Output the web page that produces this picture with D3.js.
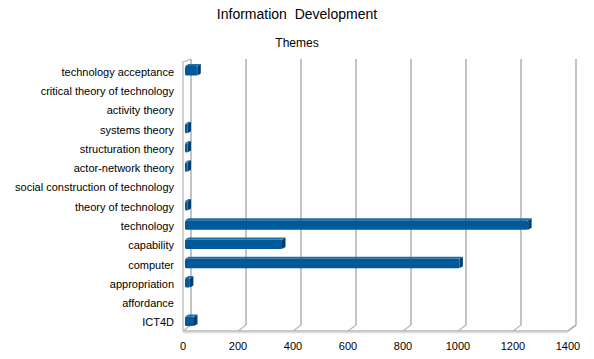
<!DOCTYPE html>
<html><head><meta charset="utf-8">
<script src="https://cdn.jsdelivr.net/npm/d3@7"></script>
<style>body{margin:0;background:#fff}svg{display:block}text{font-family:"Liberation Sans",Arial,sans-serif;fill:#000;white-space:pre}</style>
</head><body><svg id="c" width="594" height="359"></svg>
<script>
const categories = ["technology acceptance","critical theory of technology","activity theory","systems theory","structuration theory","actor-network theory","social construction of technology","theory of technology","technology","capability","computer","appropriation","affordance","ICT4D"];
const values = [52,0,0,5,5,5,0,5,1255,360,1005,25,0,40];
const ticks = [0,200,400,600,800,1000,1200,1400];

(function(){
const svg = d3.select("#c");
const dx = 8, dy = -6;
const x = d3.scaleLinear().domain([0,1400]).range([183,568]);
const y = d3.scaleBand().domain(categories).range([61,331]);

svg.append("text").attr("x",297).attr("y",19).attr("text-anchor","middle").attr("font-size",14).text("Information  Development");
svg.append("text").attr("x",297).attr("y",47).attr("text-anchor","middle").attr("font-size",12).text("Themes");

const grid = "#b5b5b5";
const g = svg.append("g");
const yTop = 59, backBottom = 331 + dy, frontBottom = 331;
ticks.forEach(t=>{
  g.append("line").attr("x1",x(t)+dx).attr("x2",x(t)+dx).attr("y1",yTop).attr("y2",backBottom).attr("stroke",grid).attr("stroke-width",1.6);
  g.append("line").attr("x1",x(t)+dx).attr("x2",x(t)).attr("y1",backBottom).attr("y2",frontBottom).attr("stroke",grid).attr("stroke-width",1.2);
});
g.append("path").attr("d",`M${x(0)},${frontBottom} L${x(0)},${yTop+3} L${x(0)+dx},${yTop}`).attr("fill","none").attr("stroke",grid).attr("stroke-width",1.2);
g.append("path").attr("d",`M${x(0)},${frontBottom} L${x(1400)},${frontBottom} L${x(1400)+dx},${backBottom}`).attr("fill","none").attr("stroke",grid).attr("stroke-width",1.6);
g.append("line").attr("x1",x(0)).attr("x2",x(1400)).attr("y1",frontBottom+1.5).attr("y2",frontBottom+1.5).attr("stroke","#dcdcdc").attr("stroke-width",1.5);

svg.append("g").selectAll("text").data(categories).join("text")
  .attr("x",174).attr("y",d=>y(d)+y.bandwidth()/2+5).attr("text-anchor","end").attr("font-size",11).text(d=>d);

svg.append("g").selectAll("text").data(ticks).join("text")
  .attr("x",d=>x(d)).attr("y",350).attr("text-anchor","middle").attr("font-size",11).text(d=>d);

const bars = svg.append("g");
categories.forEach((c,i)=>{
  const v = values[i];
  if (v<=0) return;
  const cy = y(c)+y.bandwidth()/2 - 1;
  const x0 = x(0)+2, x1 = Math.max(x(v), x0+2.5);
  const h = 9.5, d = 3.5, dh = 2;
  const yt = cy - h/2 + 1;
  bars.append("path").attr("d",`M${x1},${yt} L${x1+d},${yt-dh} L${x1+d},${yt-dh+h} L${x1},${yt+h} Z`).attr("fill","#003f6e");
  bars.append("path").attr("d",`M${x0},${yt} L${x0+d},${yt-dh} L${x1+d},${yt-dh} L${x1},${yt} Z`).attr("fill","#1c6ea8");
  bars.append("rect").attr("x",x0).attr("y",yt).attr("width",x1-x0).attr("height",h).attr("rx",1.5).attr("fill","#005a9a");
});
})();
</script></body></html>
